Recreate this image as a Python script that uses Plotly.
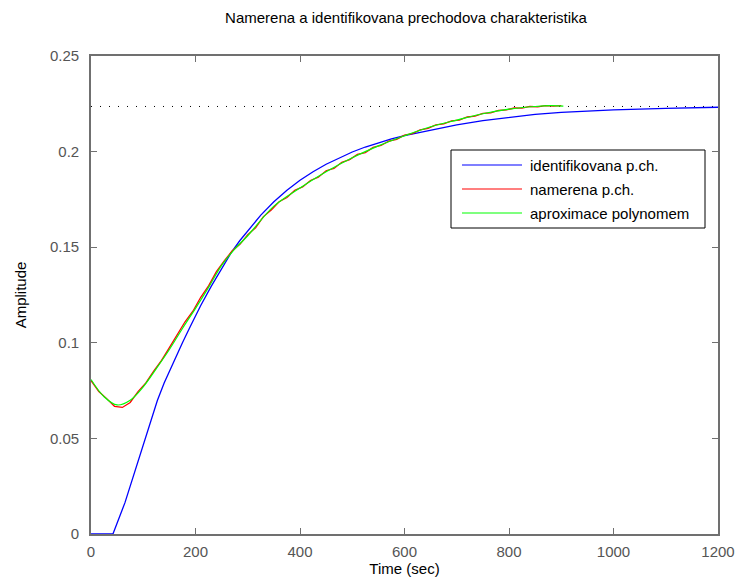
import plotly.graph_objects as go

# Identified step response (blue)
t_ident = [0, 42, 65, 90, 115, 127, 140, 160, 175, 190, 210, 230, 250, 268,
           285, 300, 325, 350, 375, 400, 425, 450, 475, 500, 525, 550, 575,
           600, 650, 700, 750, 800, 850, 900, 1000, 1100, 1200]
y_ident = [0, 0, 0.0164, 0.0382, 0.0600, 0.0698, 0.0790, 0.0915, 0.1000,
           0.1085, 0.1195, 0.1295, 0.1390, 0.1470, 0.1535, 0.1585, 0.1668,
           0.1738, 0.1798, 0.1850, 0.1895, 0.1934, 0.1968, 0.1998, 0.2024,
           0.2047, 0.2067, 0.2084, 0.2114, 0.2140, 0.2162, 0.2180, 0.2195,
           0.2205, 0.2218, 0.2226, 0.2232]

# Measured step response (red)
t_meas = list(range(0, 901, 15))
y_meas = [0.0802, 0.0745, 0.0708, 0.0668, 0.0662, 0.0688, 0.0745, 0.0790,
          0.0852, 0.0908, 0.0975, 0.1040, 0.1110, 0.1165, 0.1238, 0.1298,
          0.1372, 0.1428, 0.1480, 0.1515, 0.1565, 0.1602, 0.1660, 0.1695,
          0.1738, 0.1760, 0.1798, 0.1815, 0.1849, 0.1866, 0.1900, 0.1912,
          0.1944, 0.1958, 0.1985, 0.1995, 0.2022, 0.2032, 0.2055, 0.2064,
          0.2086, 0.2094, 0.2114, 0.2122, 0.2140, 0.2145, 0.2161, 0.2165,
          0.2181, 0.2185, 0.2200, 0.2203, 0.2215, 0.2218, 0.2228, 0.2227,
          0.2236, 0.2234, 0.2240, 0.2238, 0.2240]

# Polynomial approximation (green)
t_poly = [0, 25, 50, 75, 100, 125, 150, 175, 200, 225, 250, 275, 300, 350,
          400, 450, 500, 550, 600, 650, 700, 750, 800, 850, 880, 904]
y_poly = [0.0808, 0.0718, 0.0675, 0.0700, 0.0770, 0.0865, 0.0965, 0.1075,
          0.1180, 0.1290, 0.1405, 0.1490, 0.1560, 0.1715, 0.1810, 0.1895,
          0.1968, 0.2030, 0.2083, 0.2130, 0.2165, 0.2198, 0.2222, 0.2236,
          0.2240, 0.2238]

# Steady-state level (dotted)
steady_state = 0.2236
t_span = [0, 1200]

x_ticks = [0, 200, 400, 600, 800, 1000, 1200]
y_ticks = [0, 0.05, 0.1, 0.15, 0.2, 0.25]
y_tick_text = ["0", "0.05", "0.1", "0.15", "0.2", "0.25"]

legend_names = ["identifikovana p.ch.", "namerena p.ch.", "aproximace polynomem"]
colors = ["#0000ff", "#ff0000", "#00ff00"]

W, H = 736, 581
ML, MR, MT, MB = 91, 18, 56, 47
FONT = "Liberation Sans, Arial, Helvetica, sans-serif"


def px_x(p):
    return (p - ML) / (W - ML - MR)


def px_y(p):
    return (H - MB - p) / (H - MT - MB)


fig = go.Figure()
fig.add_trace(go.Scatter(x=t_span, y=[steady_state] * 2, mode="lines",
                         line=dict(color="black", width=1, dash="1px,8px"),
                         showlegend=False, hoverinfo="skip"))
fig.add_trace(go.Scatter(x=t_ident, y=y_ident, mode="lines", name=legend_names[0],
                         line=dict(color=colors[0], width=1.3)))
fig.add_trace(go.Scatter(x=t_meas, y=y_meas, mode="lines", name=legend_names[1],
                         line=dict(color=colors[1], width=1.3)))
fig.add_trace(go.Scatter(x=t_poly, y=y_poly, mode="lines", name=legend_names[2],
                         line=dict(color=colors[2], width=1.2, shape="spline")))

axis_common = dict(showgrid=False, zeroline=False, showline=True, mirror="ticks",
                   linecolor="#707070", linewidth=1.6, ticks="inside", ticklen=6,
                   tickcolor="#707070", tickwidth=1, automargin=False,
                   tickfont=dict(family=FONT, size=15, color="#555555"))

fig.update_xaxes(range=[0, 1200], tickvals=x_ticks, ticklabelstandoff=3,
                 title=dict(text="Time (sec)", font=dict(family=FONT, size=15, color="black"),
                            standoff=1),
                 **axis_common)
fig.update_yaxes(range=[0, 0.25], tickvals=y_ticks, ticktext=y_tick_text,
                 ticklabelstandoff=7,
                 title=dict(text="Amplitude", font=dict(family=FONT, size=15, color="black"),
                            standoff=20),
                 **axis_common)

# Legend box drawn in the upper right part of the axes
shapes = [dict(type="rect", xref="paper", yref="paper",
               x0=px_x(451), x1=px_x(705), y0=px_y(228), y1=px_y(150),
               line=dict(color="black", width=1), fillcolor="white", layer="above")]
annotations = []
for i, (name, col) in enumerate(zip(legend_names, colors)):
    yc = 165 + 24 * i
    shapes.append(dict(type="line", xref="paper", yref="paper",
                       x0=px_x(462), x1=px_x(522), y0=px_y(yc), y1=px_y(yc),
                       line=dict(color=col, width=1.2), layer="above"))
    annotations.append(dict(xref="paper", yref="paper", x=px_x(528), y=px_y(yc),
                            text=name, showarrow=False, xanchor="left", yanchor="middle",
                            font=dict(family=FONT, size=15, color="black")))

fig.update_layout(
    width=W, height=H,
    margin=dict(l=ML, r=MR, t=MT, b=MB, autoexpand=False),
    paper_bgcolor="white", plot_bgcolor="white",
    showlegend=False,
    title=dict(text="Namerena a identifikovana prechodova charakteristika",
               x=406 / W, xanchor="center",
               y=1 - 18 / H, yanchor="middle",
               font=dict(family=FONT, size=15, color="black")),
    shapes=shapes, annotations=annotations,
)

fig.write_html("out.html")
